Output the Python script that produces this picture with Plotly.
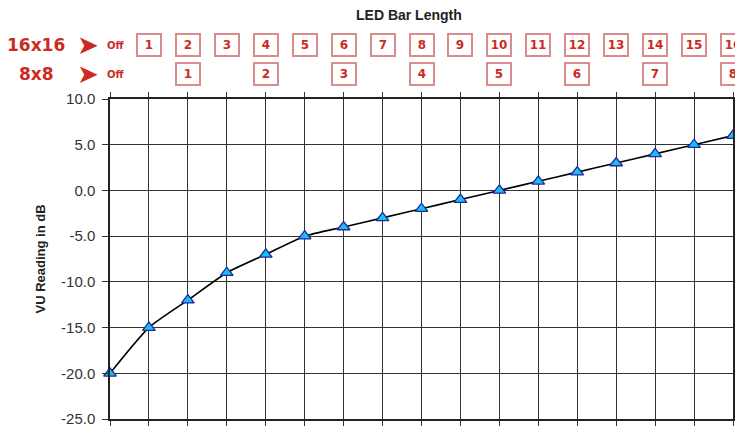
import plotly.graph_objects as go

# Data
bar_length = list(range(0, 17))
vu_db = [-20, -15, -12, -9, -7, -5, -4, -3, -2, -1, 0, 1, 2, 3, 4, 5, 6]

y_tickvals = [-25, -20, -15, -10, -5, 0, 5, 10]
y_ticktext = ["-25.0", "-20.0", "-15.0", "-10.0", "-5.0", "0.0", "5.0", "10.0"]

leds_16 = [str(i) for i in range(1, 17)]
leds_16_x = list(range(1, 17))
leds_8 = [str(i) for i in range(1, 9)]
leds_8_x = list(range(2, 17, 2))

RED = "#cc2a22"
BOX = "#d98c8c"

fig = go.Figure()
fig.add_trace(go.Scatter(
    x=bar_length, y=vu_db, mode="lines+markers",
    line=dict(color="black", width=1.6, shape="spline", smoothing=0.6),
    marker=dict(symbol="triangle-up", size=11, color="#1cbcf4",
                line=dict(color="#1c2a9c", width=1.3)),
    cliponaxis=False, showlegend=False,
))

ann = []
ann.append(dict(text="<b>LED Bar Length</b>", xref="paper", yref="paper",
                x=0.48, y=1.0, yshift=84, xanchor="center", yanchor="middle", showarrow=False,
                font=dict(family="Liberation Sans", size=14, color="#222")))
# row labels
for label, ysh in [("16x16", 54), ("8x8", 25)]:
    ann.append(dict(text="<b>%s</b>" % label, xref="paper", yref="paper", x=0, xshift=-74,
                    y=1.0, yshift=ysh, xanchor="center", yanchor="middle",
                    showarrow=False, font=dict(family="DejaVu Sans", size=17, color=RED)))
    ann.append(dict(text="➤", xref="paper", yref="paper", x=0, xshift=-22, y=1.0, yshift=ysh,
                    xanchor="center", yanchor="middle",
                    showarrow=False, font=dict(family="DejaVu Sans", size=26, color=RED)))
    ann.append(dict(text="<b>Off</b>", xref="x", yref="paper", x=0, xshift=6, y=1.0, yshift=ysh,
                    xanchor="center", yanchor="middle",
                    showarrow=False, font=dict(family="DejaVu Sans", size=10, color=RED)))
for xv, t in zip(leds_16_x, leds_16):
    ann.append(dict(text="<b>%s</b>" % t, xref="x", yref="paper", x=xv, y=1.0, yshift=54,
                    xanchor="center", yanchor="middle",
                    showarrow=False, width=20, height=18, bordercolor=BOX, borderwidth=2,
                    borderpad=1, bgcolor="white",
                    font=dict(family="DejaVu Sans", size=12, color=RED)))
for xv, t in zip(leds_8_x, leds_8):
    ann.append(dict(text="<b>%s</b>" % t, xref="x", yref="paper", x=xv, y=1.0, yshift=25,
                    xanchor="center", yanchor="middle",
                    showarrow=False, width=20, height=18, bordercolor=BOX, borderwidth=2,
                    borderpad=1, bgcolor="white",
                    font=dict(family="DejaVu Sans", size=12, color=RED)))

fig.update_layout(
    width=735, height=427,
    margin=dict(l=102, r=8, t=91, b=14),
    paper_bgcolor="white", plot_bgcolor="white",
    annotations=ann,
    xaxis=dict(range=[0, 16], dtick=1, tick0=0, showticklabels=False,
               showgrid=True, gridcolor="#333", gridwidth=1,
               showline=True, linecolor="#222", linewidth=1.5, mirror="ticks",
               ticks="outside", ticklen=5, tickcolor="#333", zeroline=False),
    yaxis=dict(range=[-25, 10], tickmode="array", tickvals=y_tickvals, ticktext=y_ticktext,
               showgrid=True, gridcolor="#333", gridwidth=1,
               showline=True, linecolor="#222", linewidth=1.5, mirror=True,
               ticks="outside", ticklen=6, tickcolor="#333", zeroline=False,
               ticklabelstandoff=4,
               tickfont=dict(family="Liberation Sans", size=15, color="#333"),
               title=dict(text="<b>VU Reading in dB</b>", standoff=12,
                          font=dict(family="Liberation Sans", size=13, color="#222"))),
)

fig.write_html("out.html")
